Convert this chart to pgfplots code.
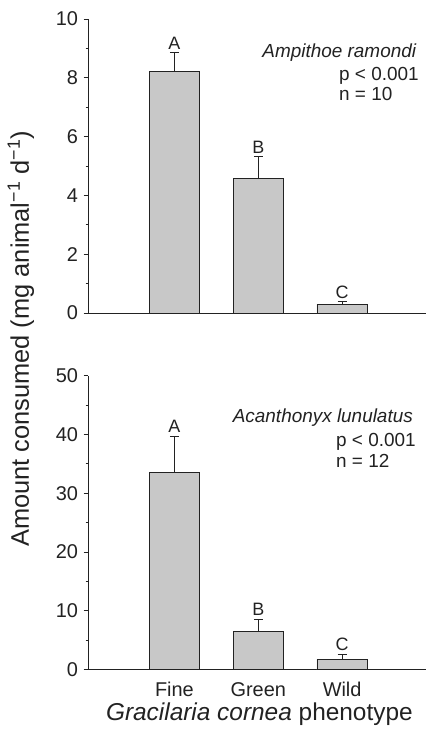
\documentclass[border=0pt]{standalone}
\usepackage{fontspec}
\setmainfont{Liberation Sans}
\usepackage{pgfplots}
\pgfplotsset{compat=1.18}
\definecolor{barfill}{HTML}{C8C8C8}
\definecolor{ink}{HTML}{222222}
\pgfplotsset{
  panel/.style={
    scale only axis, width=338bp, height=294bp,
    xmin=-1.03, xmax=3.0, ymin=0,
    axis x line*=bottom, axis y line*=left,
    axis line style={ink, line width=0.9bp},
    xtick={0,1,2}, xtick style={draw=none},
    ytick style={ink, line width=0.9bp},
    tick align=outside,
    major tick length=4.5bp, minor tick length=2.5bp,
    minor y tick num=1,
    /pgf/number format/assume math mode=true,
    ticklabel style={font=\fontsize{20}{24}\selectfont, text=ink},
    yticklabel style={xshift=-2bp},
    clip=false,
  },
  bars/.style={
    ybar, bar width=0.6, fill=barfill, draw=ink, line width=0.9bp,
    error bars/.cd, y dir=plus, y explicit,
    error bar style={line width=0.9bp, ink},
    error mark options={rotate=90, mark size=4.5bp, line width=0.9bp, ink},
  },
}
\begin{document}
\begin{tikzpicture}
\useasboundingbox (0,0) rectangle (426bp,-736bp);
% top panel
\begin{axis}[panel, at={(88bp,-313bp)}, anchor=south west,
  ymax=10, ytick={0,2,4,6,8,10}, xticklabels={}]
\addplot[bars] coordinates {(0,8.22) +- (0,0.64) (1,4.56) +- (0,0.75) (2,0.30) +- (0,0.08)};
\node[anchor=base, yshift=3.5bp, font=\fontsize{18}{20}\selectfont, text=ink] at (axis cs:0,8.86) {A};
\node[anchor=base, yshift=3.5bp, font=\fontsize{18}{20}\selectfont, text=ink] at (axis cs:1,5.31) {B};
\node[anchor=base, yshift=3.5bp, font=\fontsize{18}{20}\selectfont, text=ink] at (axis cs:2,0.38) {C};
\end{axis}
% bottom panel
\begin{axis}[panel, at={(88bp,-669.7bp)}, anchor=south west,
  ymax=50, ytick={0,10,20,30,40,50},
  xticklabels={Fine,Green,Wild},
  xticklabel style={text height=14bp, text depth=4bp, yshift=-4.5bp},
  xlabel={\textit{Gracilaria cornea} phenotype},
  xlabel style={font=\fontsize{24.5}{28}\selectfont, text=ink, anchor=base, at={(axis description cs:0.507,-0.172)}}]
\addplot[bars] coordinates {(0,33.6) +- (0,6.1) (1,6.55) +- (0,2.07) (2,1.82) +- (0,0.78)};
\node[anchor=base, yshift=3.5bp, font=\fontsize{18}{20}\selectfont, text=ink] at (axis cs:0,39.7) {A};
\node[anchor=base, yshift=3.5bp, font=\fontsize{18}{20}\selectfont, text=ink] at (axis cs:1,8.62) {B};
\node[anchor=base, yshift=3.5bp, font=\fontsize{18}{20}\selectfont, text=ink] at (axis cs:2,2.6) {C};
\end{axis}
% annotations
\begin{scope}[font=\fontsize{19}{22}\selectfont, text=ink, inner sep=0pt]
\node[anchor=base east] at (416.7bp,-57.3bp) {\textit{Ampithoe ramondi}};
\node[anchor=base west] at (339bp,-80bp) {p < 0.001};
\node[anchor=base west] at (339bp,-100.5bp) {n = 10};
\node[anchor=base east] at (413bp,-422.3bp) {\textit{Acanthonyx lunulatus}};
\node[anchor=base west] at (336bp,-446bp) {p < 0.001};
\node[anchor=base west] at (336bp,-467bp) {n = 12};
\end{scope}
\node[rotate=90, anchor=center, font=\fontsize{25.5}{28}\selectfont, text=ink] at (21bp,-339bp)
  {Amount consumed (mg animal\textsuperscript{−1} d\textsuperscript{−1})};
\end{tikzpicture}
\end{document}
